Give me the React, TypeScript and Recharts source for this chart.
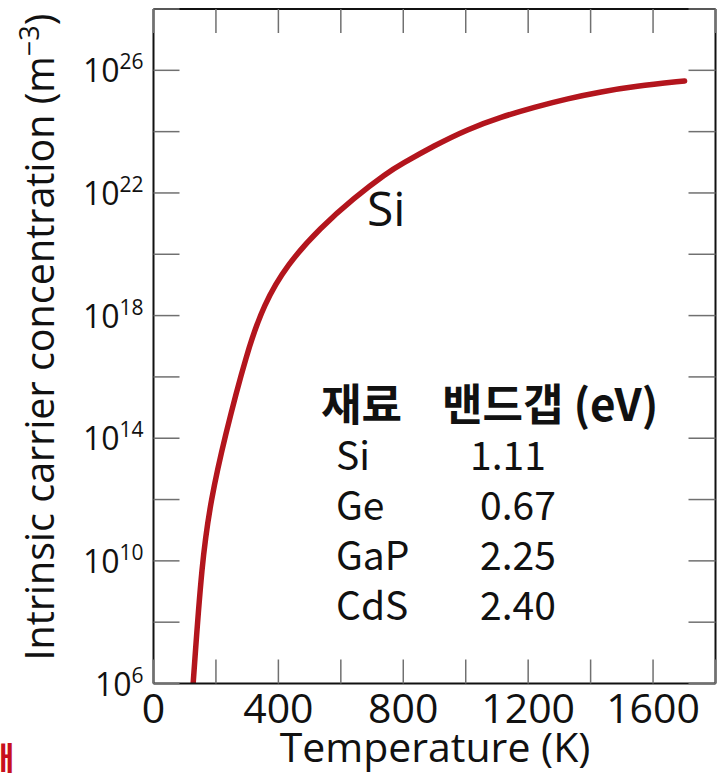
import React from 'react';
import { LineChart, Line, XAxis, YAxis } from 'recharts';

// Data
const temperatureK = [127, 155, 184, 227, 300, 353, 428, 535, 642, 749, 792, 899, 1006, 1113, 1220, 1327, 1434, 1541, 1701];
const siConcentration = [1.0e6, 1.0e10, 1.0e12, 1.0e14, 6.9e16, 2.3e18, 4.7e19, 7.4e20, 6.9e21, 4.6e22, 8.5e22, 3.5e23, 1.2e24, 3.0e24, 6.3e24, 1.2e25, 2.0e25, 3.0e25, 4.5e25];

const xTicks = [0, 200, 400, 600, 800, 1000, 1200, 1400, 1600, 1800];
const xLabelTicks = [0, 400, 800, 1200, 1600];
const yTicks = [1e6, 1e8, 1e10, 1e12, 1e14, 1e16, 1e18, 1e20, 1e22, 1e24, 1e26, 1e28];
const yLabelExponents = [6, 10, 14, 18, 22, 26];

const materials = ['Si', 'Ge', 'GaP', 'CdS'];
const bandGaps = ['1.11', '0.67', '2.25', '2.40'];

const data = temperatureK.map((t, i) => ({ t, n: siConcentration[i] }));

const TICK = '#707070';
const INK = '#111111';
const AXIS_FONT = "'Open Sans', sans-serif";
const KR_FONT = "'Noto Sans CJK KR', 'Noto Sans', sans-serif";

function BottomTick(props: any) {
  const { x, y, payload } = props;
  const v = payload.value;
  return (
    <g>
      <line x1={x} y1={y} x2={x} y2={y - 24} stroke={TICK} strokeWidth={1.5} />
      {xLabelTicks.includes(v) && (
        <text x={x} y={y + 39} textAnchor="middle" fontFamily={AXIS_FONT} fontSize={41} fill={INK}>
          {v}
        </text>
      )}
    </g>
  );
}

function TopTick(props: any) {
  const { x, y } = props;
  return <line x1={x} y1={y} x2={x} y2={y + 24} stroke={TICK} strokeWidth={1.5} />;
}

function LeftTick(props: any) {
  const { x, y, payload } = props;
  const e = Math.round(Math.log10(payload.value));
  return (
    <g>
      <line x1={x} y1={y} x2={x + 26} y2={y} stroke={TICK} strokeWidth={1.5} />
      {yLabelExponents.includes(e) && (
        <text x={x - 10} y={y + 12} textAnchor="end" fontFamily={AXIS_FONT} fontSize={32} fill={INK}>
          <tspan>10</tspan>
          <tspan dy={-13} fontSize={21}>{e}</tspan>
        </text>
      )}
    </g>
  );
}

function RightTick(props: any) {
  const { x, y } = props;
  return <line x1={x} y1={y} x2={x - 27} y2={y} stroke={TICK} strokeWidth={1.5} />;
}

export default function App() {
  const rowY = [470, 520, 570, 620];
  return (
    <div style={{ position: 'absolute', left: 0, top: 0 }}>
      <LineChart
        width={721}
        height={773}
        data={data}
        margin={{ top: 8, right: 4.5, bottom: 88.5, left: 152.5 }}
      >
        <XAxis
          dataKey="t"
          type="number"
          domain={[0, 1800]}
          ticks={xTicks}
          interval={0}
          height={1}
          tickSize={0}
          tickMargin={0}
          tickLine={false}
          tick={BottomTick}
          axisLine={{ stroke: INK, strokeWidth: 2 }}
          allowDataOverflow
        />
        <XAxis
          xAxisId="top"
          orientation="top"
          dataKey="t"
          type="number"
          domain={[0, 1800]}
          ticks={xTicks}
          interval={0}
          height={1}
          tickSize={0}
          tickMargin={0}
          tickLine={false}
          tick={TopTick}
          axisLine={{ stroke: INK, strokeWidth: 2 }}
          allowDataOverflow
        />
        <YAxis
          type="number"
          scale="log"
          domain={[1e6, 1e28]}
          ticks={yTicks}
          interval={0}
          width={1}
          tickSize={0}
          tickMargin={0}
          tickLine={false}
          tick={LeftTick}
          axisLine={{ stroke: INK, strokeWidth: 2 }}
          allowDataOverflow
        />
        <YAxis
          yAxisId="right"
          orientation="right"
          type="number"
          scale="log"
          domain={[1e6, 1e28]}
          ticks={yTicks}
          interval={0}
          width={1}
          tickSize={0}
          tickMargin={0}
          tickLine={false}
          tick={RightTick}
          axisLine={{ stroke: INK, strokeWidth: 2 }}
          allowDataOverflow
        />
        <Line
          type="basis"
          dataKey="n"
          stroke="#b3151d"
          strokeWidth={5.5}
          strokeLinecap="round"
          dot={false}
          isAnimationActive={false}
        />

        <text
          x={41}
          y={337 + 13}
          transform="rotate(-90, 41, 337)"
          textAnchor="middle"
          fontFamily={AXIS_FONT}
          fontSize={39.5}
          fill={INK}
        >
          <tspan>Intrinsic carrier concentration (m</tspan>
          <tspan dy={-15} fontSize={27}>−3</tspan>
          <tspan dy={15}>)</tspan>
        </text>

        <text x={435} y={762} textAnchor="middle" fontFamily={AXIS_FONT} fontSize={41} fill={INK}>
          Temperature (K)
        </text>

        <text x={367} y={226} fontFamily={AXIS_FONT} fontSize={48} fill={INK}>
          Si
        </text>

        <text x={321} y={421} fontFamily={KR_FONT} fontSize={44} fontWeight={700} fill={INK}>
          재료
        </text>
        <text x={442} y={421} fontFamily={KR_FONT} fontSize={44} fontWeight={700} fill={INK}>
          밴드갭 (eV)
        </text>
        {materials.map((m, i) => (
          <text key={m} x={336} y={rowY[i]} fontFamily={KR_FONT} fontSize={39} fill={INK}>
            {m}
          </text>
        ))}
        {bandGaps.map((g, i) => (
          <text key={g} x={i === 0 ? 470 : 480} y={rowY[i]} fontFamily={KR_FONT} fontSize={39} fill={INK}>
            {g}
          </text>
        ))}

        <text x={-15} y={770} fontFamily={KR_FONT} fontSize={32} fontWeight={700} fill="#c8101e">
          배
        </text>
      </LineChart>
    </div>
  );
}
